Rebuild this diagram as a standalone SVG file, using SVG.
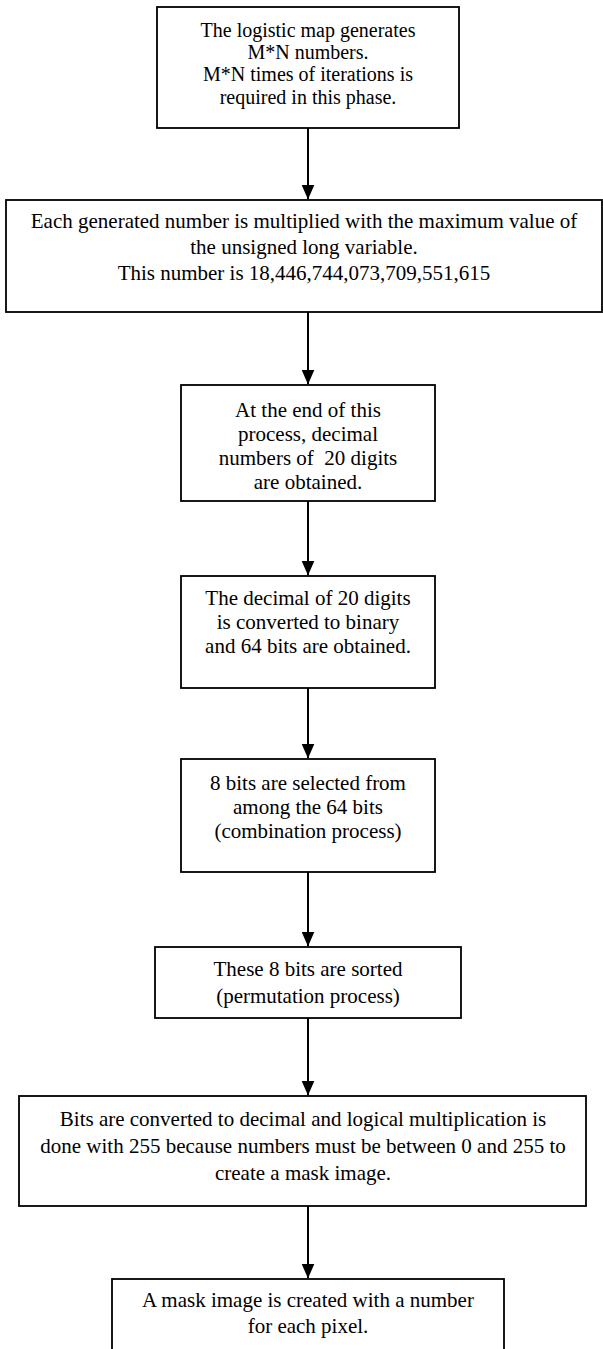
<svg xmlns="http://www.w3.org/2000/svg" width="603" height="1349" viewBox="0 0 603 1349">
  <style>
    .box { fill: #ffffff; stroke: #000000; stroke-width: 1.8; }
    .lbl { font-family: "Liberation Serif", "Times New Roman", serif; font-size: 21px; fill: #000000; text-anchor: middle; }
    .tight { font-size: 20px; }
    .edge { stroke: #000000; stroke-width: 2; fill: none; marker-end: url(#head); }
  </style>
  <defs>
    <!-- filled arrowhead, tip sits on the line end -->
    <marker id="head" viewBox="0 0 15 13" refX="14.5" refY="6.5" markerUnits="userSpaceOnUse" markerWidth="15" markerHeight="13" orient="auto">
      <path d="M0,0 L15,6.5 L0,13 Z" fill="#000000"/>
    </marker>
  </defs>
  <rect width="603" height="1349" fill="#ffffff"/>

  <g id="connectors">
    <line class="edge" x1="308" y1="128" x2="308" y2="199"/>
    <line class="edge" x1="308" y1="312" x2="308" y2="384"/>
    <line class="edge" x1="308" y1="501" x2="308" y2="575"/>
    <line class="edge" x1="308" y1="688" x2="308" y2="758"/>
    <line class="edge" x1="308" y1="872" x2="308" y2="946"/>
    <line class="edge" x1="308" y1="1018" x2="308" y2="1095"/>
    <line class="edge" x1="308" y1="1206" x2="308" y2="1278"/>
  </g>

  <g id="node-logistic-map">
    <rect class="box" x="157" y="7" width="302" height="121"/>
    <text class="lbl tight" x="308" y="37">The logistic map generates</text>
    <text class="lbl tight" x="308" y="59.2">M*N numbers.</text>
    <text class="lbl tight" x="308" y="81.4">M*N times of iterations is</text>
    <text class="lbl tight" x="308" y="103.6">required in this phase.</text>
  </g>

  <g id="node-multiply">
    <rect class="box" x="6" y="200" width="596" height="112"/>
    <text class="lbl" x="304" y="228">Each generated number is multiplied with the maximum value of</text>
    <text class="lbl" x="304" y="254">the unsigned long variable.</text>
    <text class="lbl" x="304" y="280">This number is 18,446,744,073,709,551,615</text>
  </g>

  <g id="node-decimal">
    <rect class="box" x="181" y="385" width="254" height="116"/>
    <text class="lbl" x="308" y="417">At the end of this</text>
    <text class="lbl" x="308" y="441">process, decimal</text>
    <text class="lbl" x="308" y="465" xml:space="preserve">numbers of  20 digits</text>
    <text class="lbl" x="308" y="489">are obtained.</text>
  </g>

  <g id="node-binary">
    <rect class="box" x="181" y="576" width="254" height="112"/>
    <text class="lbl" x="308" y="605">The decimal of 20 digits</text>
    <text class="lbl" x="308" y="629">is converted to binary</text>
    <text class="lbl" x="308" y="653">and 64 bits are obtained.</text>
  </g>

  <g id="node-combination">
    <rect class="box" x="181" y="759" width="254" height="113"/>
    <text class="lbl" x="308" y="790">8 bits are selected from</text>
    <text class="lbl" x="308" y="814">among the 64 bits</text>
    <text class="lbl" x="308" y="838">(combination process)</text>
  </g>

  <g id="node-permutation">
    <rect class="box" x="155" y="947" width="306" height="71"/>
    <text class="lbl" x="308" y="976">These 8 bits are sorted</text>
    <text class="lbl" x="308" y="1003">(permutation process)</text>
  </g>

  <g id="node-to-decimal">
    <rect class="box" x="19" y="1096" width="567" height="110"/>
    <text class="lbl" x="303" y="1126">Bits are converted to decimal and logical multiplication is</text>
    <text class="lbl" x="303" y="1153">done with 255 because numbers must be between 0 and 255 to</text>
    <text class="lbl" x="303" y="1180">create a mask image.</text>
  </g>

  <g id="node-mask">
    <rect class="box" x="112" y="1279" width="392" height="90"/>
    <text class="lbl" x="308" y="1307">A mask image is created with a number</text>
    <text class="lbl" x="308" y="1333">for each pixel.</text>
  </g>
</svg>
